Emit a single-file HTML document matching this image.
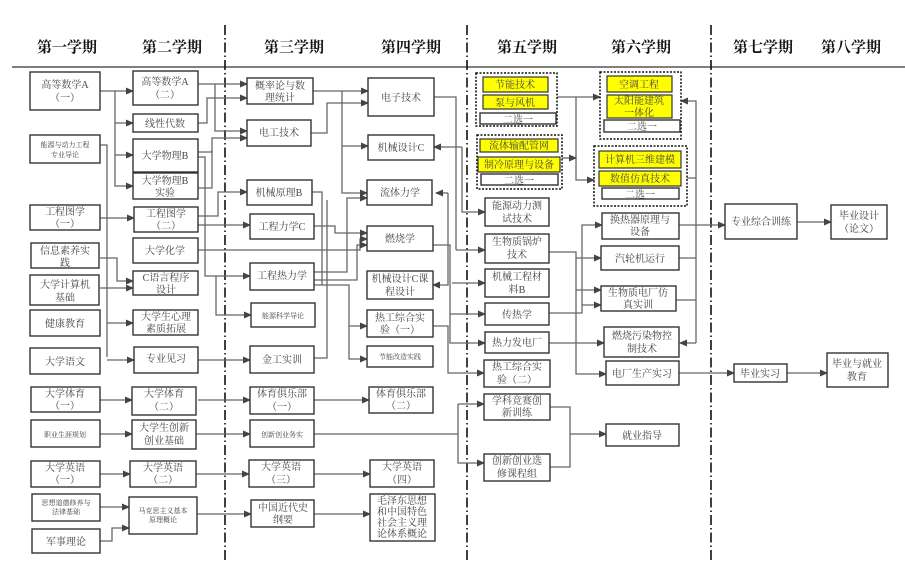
<!DOCTYPE html>
<html><head><meta charset="utf-8"><style>
html,body{margin:0;padding:0;background:#fff}
svg{display:block;font-family:"Liberation Serif","Noto Serif CJK SC","Noto Sans CJK SC",serif}
.b{fill:#fff;stroke:#333;stroke-width:1.4}
.y{fill:#ffff00;stroke:#333;stroke-width:1.2}
.g{fill:none;stroke:#111;stroke-width:1.5;stroke-dasharray:2,1.5}
.l{fill:none;stroke:#666;stroke-width:1.3}
.t{font-size:10px;fill:#444;text-anchor:middle}
.s{font-size:7px;fill:#444;text-anchor:middle}
.h{font-size:15px;font-weight:bold;fill:#111;text-anchor:middle}
.d{stroke:#111;stroke-width:1.6;stroke-dasharray:10,3,1.5,3}
</style></head><body>
<svg width="905" height="562" viewBox="0 0 905 562">
<defs><marker id="a" markerWidth="8" markerHeight="8" refX="7" refY="4" orient="auto" markerUnits="userSpaceOnUse"><path d="M0,0.5 L8,4 L0,7.5z" fill="#444"/></marker></defs>
<text class="h" x="67" y="52">第一学期</text><text class="h" x="172" y="52">第二学期</text>
<text class="h" x="294" y="52">第三学期</text><text class="h" x="411" y="52">第四学期</text>
<text class="h" x="527" y="52">第五学期</text><text class="h" x="641" y="52">第六学期</text>
<text class="h" x="763" y="52">第七学期</text><text class="h" x="851" y="52">第八学期</text>
<line x1="12" y1="67" x2="905" y2="67" stroke="#333" stroke-width="1.3"/>
<line class="d" x1="225" y1="25" x2="225" y2="560"/><line class="d" x1="467" y1="25" x2="467" y2="560"/><line class="d" x1="711" y1="25" x2="711" y2="560"/>
<g>
<path class="l" marker-end="url(#a)" d="M100,91H133"/>
<path class="l" marker-end="url(#a)" d="M115,91V123H133"/>
<path class="l" marker-end="url(#a)" d="M115,123V155H133"/>
<path class="l" marker-end="url(#a)" d="M115,155V186H133"/>
<path class="l" marker-end="url(#a)" d="M100,218H134"/>
<path class="l" d="M100,145H107V357"/>
<path class="l" marker-end="url(#a)" d="M107,323H133"/>
<path class="l" marker-end="url(#a)" d="M107,360H134"/>
<path class="l" marker-end="url(#a)" d="M100,258H117V281H133"/>
<path class="l" marker-end="url(#a)" d="M100,288H133"/>
<path class="l" marker-end="url(#a)" d="M100,400H132"/>
<path class="l" marker-end="url(#a)" d="M100,434H132"/>
<path class="l" marker-end="url(#a)" d="M100,474H130"/>
<path class="l" marker-end="url(#a)" d="M100,507H129"/>
<path class="l" marker-end="url(#a)" d="M100,541H112V528H129"/>
<path class="l" marker-end="url(#a)" d="M198,84H247"/>
<path class="l" marker-end="url(#a)" d="M215,84V131H247"/>
<path class="l" marker-end="url(#a)" d="M198,123H207V98H247"/>
<path class="l" marker-end="url(#a)" d="M198,152H212V138H247"/>
<path class="l" d="M198,188H212V150"/>
<path class="l" marker-end="url(#a)" d="M198,157H205V276H250"/>
<path class="l" marker-end="url(#a)" d="M198,216H218V192H247"/>
<path class="l" marker-end="url(#a)" d="M198,225H250"/>
<path class="l" marker-end="url(#a)" d="M198,250H360V239H367"/>
<path class="l" marker-end="url(#a)" d="M216,276V315H251"/>
<path class="l" marker-end="url(#a)" d="M198,360H250"/>
<path class="l" d="M314,358H327V200"/>
<path class="l" marker-end="url(#a)" d="M198,400H250"/><path class="l" marker-end="url(#a)" d="M314,400H369"/>
<path class="l" marker-end="url(#a)" d="M196,434H250"/><path class="l" d="M314,434H458"/>
<path class="l" marker-end="url(#a)" d="M458,404V463H484"/><path class="l" marker-end="url(#a)" d="M458,404H484"/>
<path class="l" d="M550,407H570V467H550"/><path class="l" marker-end="url(#a)" d="M570,434H606"/>
<path class="l" marker-end="url(#a)" d="M196,474H249"/><path class="l" marker-end="url(#a)" d="M314,474H370"/>
<path class="l" marker-end="url(#a)" d="M197,514H251"/><path class="l" marker-end="url(#a)" d="M314,514H370"/>
<path class="l" marker-end="url(#a)" d="M313,91H368"/>
<path class="l" marker-end="url(#a)" d="M342,91V193H367"/>
<path class="l" marker-end="url(#a)" d="M342,146H368"/>
<path class="l" marker-end="url(#a)" d="M311,133H327V103H368"/>
<path class="l" d="M312,192H322V285"/>
<path class="l" marker-end="url(#a)" d="M314,226H335V233H367"/>
<path class="l" marker-end="url(#a)" d="M314,272H347V198H367"/>
<path class="l" marker-end="url(#a)" d="M314,280H357V245H367"/>
<path class="l" marker-end="url(#a)" d="M314,285H349V326H367"/>
<path class="l" marker-end="url(#a)" d="M349,326V359H367"/>
<path class="l" d="M434,97H456V250"/>
<path class="l" marker-end="url(#a)" d="M456,250H485"/>
<path class="l" marker-end="url(#a)" d="M462,147V212H485"/>
<path class="l" marker-end="url(#a)" d="M462,147H434"/>
<path class="l" marker-end="url(#a)" d="M448,193H436"/>
<path class="l" marker-end="url(#a)" d="M448,193V285H433"/>
<path class="l" marker-end="url(#a)" d="M452,283H485"/>
<path class="l" marker-end="url(#a)" d="M433,245H450V314H485"/>
<path class="l" marker-end="url(#a)" d="M450,314V343H485"/>
<path class="l" marker-end="url(#a)" d="M433,326H448V373H484"/>
<path class="l" marker-end="url(#a)" d="M557,97H600"/>
<path class="l" marker-end="url(#a)" d="M576,97V180H594"/>
<path class="l" marker-end="url(#a)" d="M562,158H576"/>
<path class="l" marker-end="url(#a)" d="M549,252H576V374H606"/>
<path class="l" marker-end="url(#a)" d="M576,258H601"/>
<path class="l" marker-end="url(#a)" d="M576,290H601"/>
<path class="l" marker-end="url(#a)" d="M582,305V225H602"/>
<path class="l" marker-end="url(#a)" d="M549,313H582V305H601"/>
<path class="l" marker-end="url(#a)" d="M549,343H604"/>
<path class="l" d="M687,178H696M679,258H696M676,300H696"/>
<path class="l" marker-end="url(#a)" d="M696,343V101H681"/>
<path class="l" marker-end="url(#a)" d="M696,343H680"/>
<path class="l" marker-end="url(#a)" d="M679,225H725"/>
<path class="l" marker-end="url(#a)" d="M797,222H831"/>
<path class="l" marker-end="url(#a)" d="M679,373H734"/>
<path class="l" marker-end="url(#a)" d="M787,373H827"/>
</g>
<rect class="g" x="476" y="73" width="81" height="53"/><rect class="g" x="477" y="135" width="85" height="54"/>
<rect class="g" x="600" y="72" width="81" height="67"/><rect class="g" x="594" y="146" width="93" height="60"/>
<rect class="y" x="483" y="77" width="65" height="15"/><text class="t" x="515" y="88">节能技术</text>
<rect class="y" x="483" y="95" width="65" height="14"/><text class="t" x="515" y="106">泵与风机</text>
<rect class="b" x="480" y="113" width="76" height="11"/><text class="t" x="518" y="123">二选一</text>
<rect class="y" x="480" y="139" width="78" height="13"/><text class="t" x="519" y="149">流体输配管网</text>
<rect class="y" x="478" y="157" width="82" height="15"/><text class="t" x="519" y="168">制冷原理与设备</text>
<rect class="b" x="481" y="174" width="77" height="11"/><text class="t" x="519" y="184">二选一</text>
<rect class="y" x="607" y="76" width="65" height="16"/><text class="t" x="639" y="88">空调工程</text>
<rect class="y" x="607" y="95" width="65" height="23"/><text class="t" x="639" y="104">太阳能建筑</text><text class="t" x="639" y="116">一体化</text>
<rect class="b" x="604" y="120" width="76" height="12"/><text class="t" x="642" y="130">二选一</text>
<rect class="y" x="599" y="151" width="82" height="17"/><text class="t" x="640" y="163">计算机三维建模</text>
<rect class="y" x="599" y="171" width="82" height="15"/><text class="t" x="640" y="182">数值仿真技术</text>
<rect class="b" x="602" y="188" width="77" height="11"/><text class="t" x="640" y="198">二选一</text>
<g>
<rect class="b" x="30" y="72" width="70" height="38"/><text class="t" x="65" y="88">高等数学A</text><text class="t" x="65" y="101">（一）</text>
<rect class="b" x="30" y="135" width="70" height="28"/><text class="s" x="65" y="147">能源与动力工程</text><text class="s" x="65" y="157">专业导论</text>
<rect class="b" x="30" y="205" width="70" height="25"/><text class="t" x="65" y="215">工程图学</text><text class="t" x="65" y="227">（一）</text>
<rect class="b" x="31" y="243" width="68" height="25"/><text class="t" x="65" y="254">信息素养实</text><text class="t" x="65" y="266">践</text>
<rect class="b" x="30" y="275" width="69" height="30"/><text class="t" x="65" y="288">大学计算机</text><text class="t" x="65" y="301">基础</text>
<rect class="b" x="30" y="310" width="70" height="26"/><text class="t" x="65" y="327">健康教育</text>
<rect class="b" x="30" y="348" width="70" height="26"/><text class="t" x="65" y="365">大学语文</text>
<rect class="b" x="31" y="387" width="69" height="25"/><text class="t" x="65" y="397">大学体育</text><text class="t" x="65" y="409">（一）</text>
<rect class="b" x="31" y="420" width="69" height="27"/><text class="s" x="65" y="437">职业生涯规划</text>
<rect class="b" x="31" y="461" width="69" height="26"/><text class="t" x="65" y="471">大学英语</text><text class="t" x="65" y="483">（一）</text>
<rect class="b" x="32" y="494" width="68" height="27"/><text class="s" x="66" y="505">思想道德修养与</text><text class="s" x="66" y="514">法律基础</text>
<rect class="b" x="32" y="529" width="68" height="24"/><text class="t" x="66" y="545">军事理论</text>
<rect class="b" x="133" y="71" width="65" height="34"/><text class="t" x="165" y="85">高等数学A</text><text class="t" x="165" y="98">（二）</text>
<rect class="b" x="133" y="114" width="65" height="18"/><text class="t" x="165" y="127">线性代数</text>
<rect class="b" x="133" y="139" width="65" height="33"/><text class="t" x="165" y="159">大学物理B</text>
<rect class="b" x="133" y="173" width="65" height="26"/><text class="t" x="165" y="184">大学物理B</text><text class="t" x="165" y="196">实验</text>
<rect class="b" x="134" y="207" width="64" height="25"/><text class="t" x="166" y="217">工程图学</text><text class="t" x="166" y="229">（二）</text>
<rect class="b" x="133" y="238" width="65" height="25"/><text class="t" x="165" y="254">大学化学</text>
<rect class="b" x="133" y="271" width="65" height="24"/><text class="t" x="166" y="281">C语言程序</text><text class="t" x="166" y="293">设计</text>
<rect class="b" x="133" y="310" width="65" height="25"/><text class="t" x="166" y="320">大学生心理</text><text class="t" x="166" y="332">素质拓展</text>
<rect class="b" x="134" y="347" width="64" height="26"/><text class="t" x="166" y="362">专业见习</text>
<rect class="b" x="132" y="387" width="64" height="28"/><text class="t" x="164" y="397">大学体育</text><text class="t" x="164" y="410">（二）</text>
<rect class="b" x="132" y="420" width="64" height="29"/><text class="t" x="164" y="431">大学生创新</text><text class="t" x="164" y="444">创业基础</text>
<rect class="b" x="130" y="461" width="66" height="26"/><text class="t" x="163" y="471">大学英语</text><text class="t" x="163" y="483">（二）</text>
<rect class="b" x="129" y="497" width="68" height="37"/><text class="s" x="163" y="513">马克思主义基本</text><text class="s" x="163" y="522">原理概论</text>
<rect class="b" x="247" y="78" width="66" height="26"/><text class="t" x="280" y="89">概率论与数</text><text class="t" x="280" y="101">理统计</text>
<rect class="b" x="247" y="120" width="64" height="26"/><text class="t" x="279" y="136">电工技术</text>
<rect class="b" x="247" y="180" width="65" height="25"/><text class="t" x="279" y="196">机械原理B</text>
<rect class="b" x="250" y="214" width="64" height="25"/><text class="t" x="282" y="230">工程力学C</text>
<rect class="b" x="250" y="263" width="64" height="27"/><text class="t" x="282" y="279">工程热力学</text>
<rect class="b" x="251" y="303" width="64" height="24"/><text class="s" x="283" y="318">能源科学导论</text>
<rect class="b" x="250" y="346" width="64" height="27"/><text class="t" x="282" y="363">金工实训</text>
<rect class="b" x="250" y="387" width="64" height="27"/><text class="t" x="282" y="397">体育俱乐部</text><text class="t" x="282" y="410">（一）</text>
<rect class="b" x="250" y="420" width="64" height="27"/><text class="s" x="282" y="437">创新创业务实</text>
<rect class="b" x="249" y="460" width="65" height="27"/><text class="t" x="281" y="470">大学英语</text><text class="t" x="281" y="483">（三）</text>
<rect class="b" x="251" y="500" width="63" height="27"/><text class="t" x="283" y="511">中国近代史</text><text class="t" x="283" y="523">纲要</text>
<rect class="b" x="368" y="78" width="66" height="38"/><text class="t" x="401" y="101">电子技术</text>
<rect class="b" x="368" y="135" width="66" height="25"/><text class="t" x="401" y="151">机械设计C</text>
<rect class="b" x="367" y="180" width="65" height="25"/><text class="t" x="400" y="196">流体力学</text>
<rect class="b" x="367" y="226" width="66" height="25"/><text class="t" x="400" y="242">燃烧学</text>
<rect class="b" x="367" y="271" width="66" height="28"/><text class="t" x="400" y="282">机械设计C课</text><text class="t" x="400" y="295">程设计</text>
<rect class="b" x="367" y="310" width="66" height="27"/><text class="t" x="400" y="321">热工综合实</text><text class="t" x="400" y="333">验（一）</text>
<rect class="b" x="367" y="346" width="66" height="21"/><text class="s" x="400" y="359">节能改造实践</text>
<rect class="b" x="369" y="387" width="64" height="26"/><text class="t" x="401" y="397">体育俱乐部</text><text class="t" x="401" y="409">（二）</text>
<rect class="b" x="370" y="460" width="64" height="27"/><text class="t" x="402" y="470">大学英语</text><text class="t" x="402" y="483">（四）</text>
<rect class="b" x="370" y="494" width="65" height="47"/><text class="t" x="402" y="504">毛泽东思想</text><text class="t" x="402" y="515">和中国特色</text><text class="t" x="402" y="526">社会主义理</text><text class="t" x="402" y="537">论体系概论</text>
<rect class="b" x="485" y="198" width="64" height="28"/><text class="t" x="517" y="209">能源动力测</text><text class="t" x="517" y="222">试技术</text>
<rect class="b" x="485" y="234" width="64" height="29"/><text class="t" x="517" y="245">生物质锅炉</text><text class="t" x="517" y="258">技术</text>
<rect class="b" x="485" y="269" width="64" height="28"/><text class="t" x="517" y="280">机械工程材</text><text class="t" x="517" y="293">料B</text>
<rect class="b" x="485" y="303" width="64" height="22"/><text class="t" x="517" y="318">传热学</text>
<rect class="b" x="485" y="332" width="64" height="21"/><text class="t" x="517" y="346">热力发电厂</text>
<rect class="b" x="484" y="360" width="66" height="27"/><text class="t" x="517" y="370">热工综合实</text><text class="t" x="517" y="383">验（二）</text>
<rect class="b" x="484" y="394" width="66" height="26"/><text class="t" x="517" y="404">学科竞赛创</text><text class="t" x="517" y="416">新训练</text>
<rect class="b" x="484" y="454" width="66" height="27"/><text class="t" x="517" y="464">创新创业选</text><text class="t" x="517" y="477">修课程组</text>
<rect class="b" x="602" y="213" width="77" height="26"/><text class="t" x="640" y="223">换热器原理与</text><text class="t" x="640" y="235">设备</text>
<rect class="b" x="601" y="246" width="78" height="24"/><text class="t" x="640" y="262">汽轮机运行</text>
<rect class="b" x="601" y="286" width="75" height="25"/><text class="t" x="638" y="296">生物质电厂仿</text><text class="t" x="638" y="308">真实训</text>
<rect class="b" x="604" y="327" width="75" height="30"/><text class="t" x="642" y="339">燃烧污染物控</text><text class="t" x="642" y="352">制技术</text>
<rect class="b" x="606" y="361" width="73" height="24"/><text class="t" x="642" y="377">电厂生产实习</text>
<rect class="b" x="606" y="424" width="73" height="22"/><text class="t" x="642" y="439">就业指导</text>
<rect class="b" x="725" y="204" width="72" height="35"/><text class="t" x="761" y="225">专业综合训练</text>
<rect class="b" x="831" y="205" width="56" height="34"/><text class="t" x="859" y="219">毕业设计</text><text class="t" x="859" y="232">（论文）</text>
<rect class="b" x="734" y="364" width="53" height="18"/><text class="t" x="760" y="377">毕业实习</text>
<rect class="b" x="827" y="353" width="61" height="34"/><text class="t" x="857" y="367">毕业与就业</text><text class="t" x="857" y="380">教育</text>
</g>
</svg>
</body></html>
